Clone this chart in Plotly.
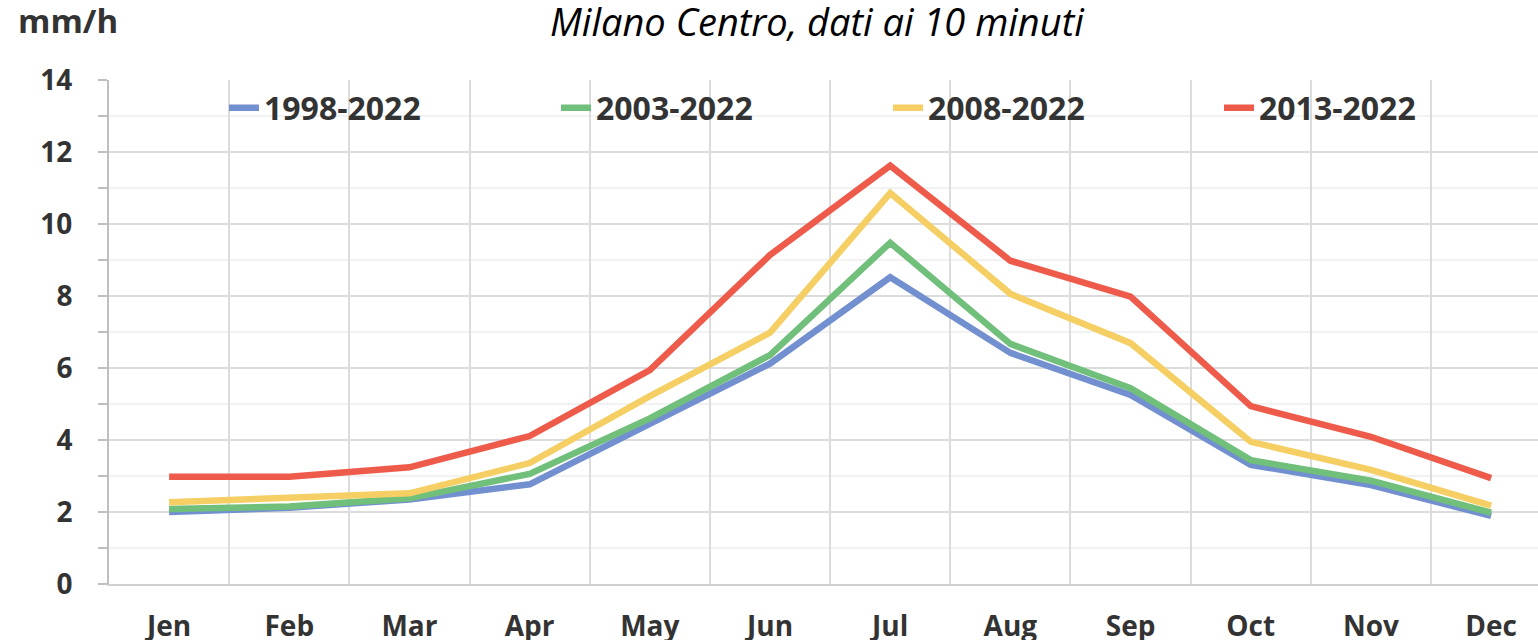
import plotly.graph_objects as go

months = ["Jen", "Feb", "Mar", "Apr", "May", "Jun", "Jul", "Aug", "Sep", "Oct", "Nov", "Dec"]

s_1998_2022 = [2.00, 2.12, 2.35, 2.77, 4.45, 6.12, 8.52, 6.42, 5.25, 3.31, 2.75, 1.89]
s_2003_2022 = [2.08, 2.15, 2.38, 3.06, 4.60, 6.36, 9.48, 6.67, 5.44, 3.44, 2.87, 1.98]
s_2008_2022 = [2.27, 2.38, 2.52, 3.36, 5.22, 6.98, 10.86, 8.06, 6.69, 3.95, 3.17, 2.18]
s_2013_2022 = [2.98, 2.98, 3.24, 4.11, 5.94, 9.14, 11.62, 8.98, 7.98, 4.94, 4.09, 2.94]

series = [
    ("1998-2022", s_1998_2022, "#7290CF"),
    ("2003-2022", s_2003_2022, "#70BF7A"),
    ("2008-2022", s_2008_2022, "#F5CF63"),
    ("2013-2022", s_2013_2022, "#EE5B4B"),
]

_TXT = "#333333"
_FONT = "Open Sans, Arial, sans-serif"

# plot area in pixels (1538x640 page)
_L, _T, _B = 109, 80, 56
_PW, _PH = 1538 - _L, 640 - _T - _B


def _px(x, y):
    """page pixel -> paper coords"""
    return (x - _L) / _PW, (640 - _B - y) / _PH


# one legend box per series, so the row never wraps
_LEG_X = [224, 556, 888, 1219]

fig = go.Figure()
legends = {}
for i, (name, vals, color) in enumerate(series):
    key = "legend" if i == 0 else f"legend{i + 1}"
    fig.add_trace(go.Scatter(
        x=months, y=vals, name=name, mode="lines",
        line=dict(color=color, width=6.5), legend=key,
    ))
    lx, ly = _px(_LEG_X[i], 108)
    legends[key] = dict(
        x=lx, y=ly, xanchor="left", yanchor="middle",
        font=dict(size=32, family=_FONT, color=_TXT, weight="bold"),
        bgcolor="rgba(0,0,0,0)",
    )

tx, ty = _px(817, 21)
mx, my = _px(16, 21)

fig.update_layout(
    width=1538, height=640,
    paper_bgcolor="white", plot_bgcolor="white",
    margin=dict(l=_L, r=0, t=_T, b=_B),
    font=dict(family=_FONT, color=_TXT),
    showlegend=True,
    annotations=[
        dict(text="<i>Milano Centro, dati ai 10 minuti</i>", x=tx, y=ty,
             xref="paper", yref="paper", xanchor="center", yanchor="middle",
             showarrow=False, font=dict(size=38, color="black")),
        dict(text="<b>mm/h</b>", x=mx, y=my,
             xref="paper", yref="paper", xanchor="left", yanchor="middle",
             showarrow=False, font=dict(size=33, color=_TXT)),
    ],
    **legends,
)

fig.update_xaxes(
    type="category", range=[-0.5, 11.39], automargin=False,
    tickson="boundaries", showgrid=True, gridcolor="#DCDCDC", gridwidth=2,
    ticks="", showline=True, linecolor="#D0D0D0", linewidth=2,
    tickfont=dict(size=28, weight="bold", color=_TXT),
    ticklabelstandoff=16,
)
fig.update_yaxes(
    range=[0, 14], dtick=2, tick0=0, automargin=False,
    showgrid=True, gridcolor="#DCDCDC", gridwidth=2,
    zeroline=False, showline=True, linecolor="#BFBFBF", linewidth=2,
    ticks="outside", ticklen=9, tickwidth=2, tickcolor="#BFBFBF",
    minor=dict(dtick=1, ticks="outside", ticklen=9, tickwidth=2, tickcolor="#BFBFBF",
               showgrid=True, gridcolor="#F2F2F2", gridwidth=2),
    tickfont=dict(size=28, weight="bold", color=_TXT),
    ticklabelstandoff=20,
)

# no page margin / scrollbars, so the figure sits at (0, 0) at full size
_fix = (
    "document.body.style.margin='0';"
    "document.body.style.overflow='hidden';"
    "var gd=document.getElementById('{plot_id}');"
    "Plotly.relayout(gd,{width:1538,height:640});"
)
fig.write_html("out.html", post_script=_fix,
               config={"responsive": False, "displayModeBar": False})
